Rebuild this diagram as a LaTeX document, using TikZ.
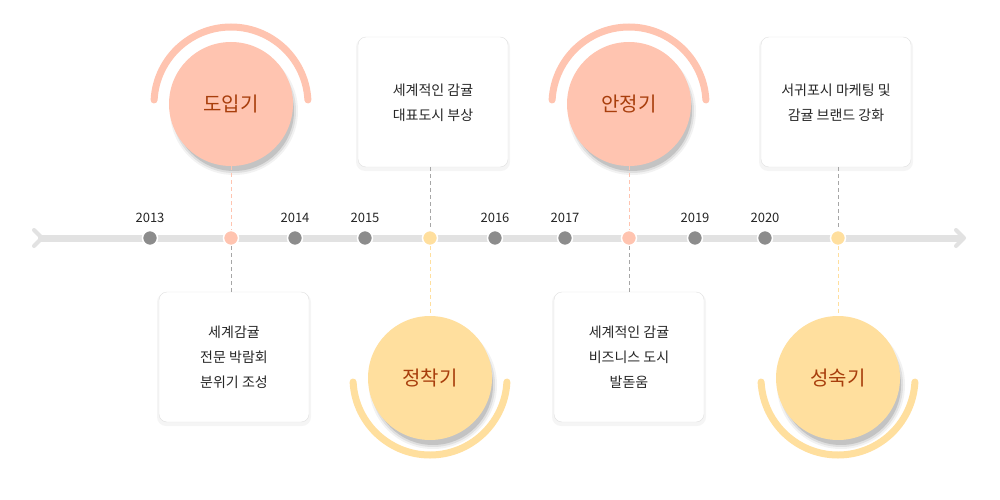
\documentclass[tikz,border=0pt]{standalone}
\usepackage{fontspec}
\setmainfont{Noto Sans CJK KR}
\definecolor{peach}{HTML}{FFC4B0}
\definecolor{yel}{HTML}{FFDF9E}
\definecolor{brn}{HTML}{A83E0C}
\definecolor{lgray}{HTML}{E2E2E2}
\definecolor{dgray}{HTML}{8C8C8C}
\tikzset{
 dot/.style={circle,draw=white,line width=1.5pt,minimum size=15pt,inner sep=0pt},
 yr/.style={font=\fontsize{13pt}{15pt}\selectfont,text=black!85},
 infobox/.style={draw=black!12,rounded corners=8pt,fill=white,minimum width=150pt,minimum height=130pt,align=center,font=\fontsize{14pt}{25pt}\selectfont,text=black!85},
 phase/.style={circle,minimum size=124pt,inner sep=0pt,font=\fontsize{20pt}{22pt}\selectfont,text=brn},
 conn/.style={dashed,dash pattern=on 4pt off 3pt,line width=0.8pt},
 ring/.style={line width=7pt,line cap=round}
}
\begin{document}
\begin{tikzpicture}[x=1pt,y=-1pt]
\useasboundingbox (0,0) rectangle (1000,500);
\fill[white] (0,0) rectangle (1000,500);
% timeline
\coordinate (L) at (38,238);
\coordinate (R) at (962,238);
\draw[lgray,line width=7pt] (L) -- (R);
\draw[lgray,line width=4pt,line cap=round,line join=round] (34,230) -- (42,238) -- (34,246);
\draw[lgray,line width=4pt,line cap=round,line join=round] (956,230) -- (964,238) -- (956,246);
% boxes (soft shadows)
\foreach \x/\y in {433/102,836/102,234/357,629/357}{
  \fill[black,opacity=0.04,rounded corners=9pt] (\x-77,\y-64) rectangle (\x+77,\y+69);
}
\node[infobox] (b1) at (433,102) {세계적인 감귤\\대표도시 부상\\[-25pt]};
\node[infobox] (b2) at (836,102) {서귀포시 마케팅 및\\감귤 브랜드 강화\\[-25pt]};
\node[infobox] (b3) at (234,357) {세계감귤\\전문 박람회\\분위기 조성};
\node[infobox] (b4) at (629,357) {세계적인 감귤\\비즈니스 도시\\발돋움};
% phase circles
\draw[ring,peach] (231,104) ++(183:77) arc (183:357:77);
\draw[ring,peach] (629,104) ++(183:77) arc (183:357:77);
\draw[ring,yel] (430,378) ++(177:77) arc (177:3:77);
\draw[ring,yel] (838,378) ++(177:77) arc (177:3:77);
\foreach \x/\y in {231/104,629/104,430/378,838/378}{
  \foreach \r/\o in {64/0.05,62/0.08,60/0.12}
    \fill[black,opacity=\o] (\x+3,\y+7) circle (\r);
}
\node[phase,fill=peach] (p1) at (231,104) {도입기};
\node[phase,fill=peach] (p2) at (629,104) {안정기};
\node[phase,fill=yel] (p3) at (430,378) {정착기};
\node[phase,fill=yel] (p4) at (838,378) {성숙기};
% dots
\foreach \n/\x/\c in {d13/150/dgray,d14/295/dgray,d15/365/dgray,d16/495/dgray,d17/565/dgray,d19/695/dgray,d20/765/dgray,e1/231/peach,e2/629/peach,e3/430/yel,e4/838/yel}
  \node[dot,fill=\c] (\n) at (\x,238) {};
\foreach \n/\x/\t in {d13/150/2013,d14/295/2014,d15/365/2015,d16/495/2016,d17/565/2017,d19/695/2019,d20/765/2020}
  \node[yr] at (\x,218) {\t};
% connectors
\draw[conn,peach] (p1) -- (e1);
\draw[conn,peach] (p2) -- (e2);
\draw[conn,black!35] (e1) -- (b3.north -| e1);
\draw[conn,black!35] (e2) -- (b4.north -| e2);
\draw[conn,black!35] (b1.south -| e3) -- (e3);
\draw[conn,black!35] (b2.south -| e4) -- (e4);
\draw[conn,yel] (e3) -- (p3);
\draw[conn,yel] (e4) -- (p4);
\end{tikzpicture}
\end{document}
